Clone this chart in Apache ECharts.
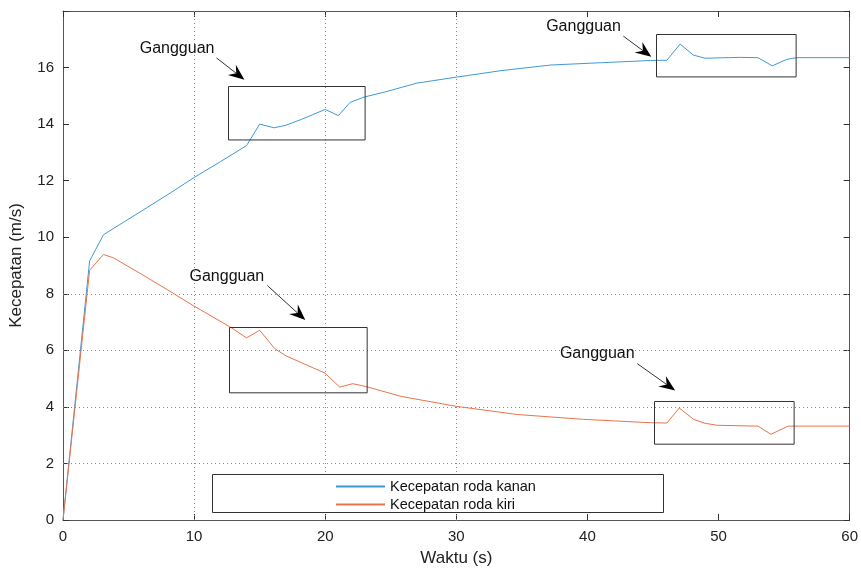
<!DOCTYPE html>
<html>
<head>
<meta charset="utf-8">
<script src="https://cdn.jsdelivr.net/npm/echarts@6/dist/echarts.min.js"></script>
<style>
  html, body { margin: 0; padding: 0; background: #fff; }
  #chart { width: 861px; height: 572px; }
</style>
</head>
<body>
<div id="chart"></div>
<script>
// waktu (s) dan kecepatan (m/s)
let tKanan = [0, 2.03, 3.09, 6, 8, 10.06, 12, 14.0, 15.0, 16.1, 17.0, 18.2, 20.0, 21.0, 21.9, 23.0, 24.5, 27.0, 30.0, 33.4, 37.2, 41.0, 44.8, 46.06, 47.07, 48.08, 48.97, 51.6, 53.0, 54.1, 55.2, 55.95, 60];
let vKanan = [0, 9.16, 10.09, 10.93, 11.51, 12.13, 12.67, 13.24, 14.0, 13.87, 13.96, 14.17, 14.52, 14.3, 14.77, 14.96, 15.13, 15.45, 15.66, 15.89, 16.09, 16.17, 16.25, 16.26, 16.83, 16.44, 16.33, 16.36, 16.35, 16.06, 16.29, 16.35, 16.35];

let tKiri = [0, 2.03, 3.09, 3.85, 6.0, 8.29, 9.94, 12.7, 14.0, 15.0, 16.15, 17.03, 20.0, 21.1, 22.1, 23.1, 25.8, 30.0, 34.65, 39.7, 44.8, 46.06, 47.0, 48.1, 48.97, 49.9, 53.0, 54.0, 55.3, 60];
let vKiri = [0, 8.83, 9.39, 9.27, 8.69, 8.05, 7.58, 6.84, 6.44, 6.71, 6.06, 5.8, 5.19, 4.7, 4.82, 4.72, 4.37, 4.02, 3.73, 3.56, 3.44, 3.43, 3.96, 3.56, 3.42, 3.35, 3.32, 3.03, 3.32, 3.32];

let names = ['Kecepatan roda kanan', 'Kecepatan roda kiri'];
let gridX = [10, 20, 30];
let gridY = [2, 4, 6, 8];

// kotak gangguan: [x0, x1, y0, y1]
let boxes = [
    [12.55, 22.97, 13.47, 15.36],
    [45.25, 55.9, 15.7, 17.2],
    [12.67, 23.17, 4.51, 6.82],
    [45.1, 55.75, 2.7, 4.21]
];
// panah: [xAwal, yAwal, xUjung, yUjung], teks: [x, y]
let arrows = [
    [11.71, 16.34, 13.84, 15.57],
    [42.74, 17.11, 44.87, 16.38],
    [15.59, 8.29, 18.48, 7.07],
    [43.8, 5.53, 46.69, 4.58]
];
let labels = [
    [8.7, 16.66],
    [39.7, 17.46],
    [12.5, 8.62],
    [40.75, 5.88]
];

function pairs(t, v) {
    let out = [];
    for (let i = 0; i < t.length; ++i) out.push([t[i], v[i]]);
    return out;
}

let font = 'Liberation Sans, Arial, sans-serif';
let chart = echarts.init(document.getElementById('chart'));

let gridLines = [];
gridX.forEach(function (x) { gridLines.push({ xAxis: x }); });
gridY.forEach(function (y) { gridLines.push({ yAxis: y }); });

let axisCommon = {
    axisLine: { show: true, onZero: false, lineStyle: { color: '#555', width: 1 } },
    axisTick: { show: true, inside: true, length: 6, lineStyle: { color: '#333' } },
    splitLine: { show: false }
};

let option = {
    animation: false,
    grid: { left: 61, right: 10, top: 11, bottom: 47 },
    xAxis: [
        Object.assign({
            type: 'value', min: 0, max: 60, interval: 10,
            name: 'Waktu (s)', nameLocation: 'middle', nameGap: 30,
            nameTextStyle: { fontFamily: font, fontSize: 17, color: '#222' },
            axisLabel: { fontFamily: font, fontSize: 15, color: '#222', margin: 9 }
        }, axisCommon),
        Object.assign({
            type: 'value', min: 0, max: 60, interval: 10, position: 'top',
            axisLabel: { show: false }
        }, axisCommon)
    ],
    yAxis: [
        Object.assign({
            type: 'value', min: 0, max: 18, interval: 2,
            name: 'Kecepatan (m/s)', nameLocation: 'middle', nameGap: 38,
            nameTextStyle: { fontFamily: font, fontSize: 17, color: '#222' },
            axisLabel: {
                fontFamily: font, fontSize: 15, color: '#222', margin: 9,
                formatter: function (v) { return v >= 18 ? '' : v; }
            }
        }, axisCommon),
        Object.assign({
            type: 'value', min: 0, max: 18, interval: 2, position: 'right',
            axisLabel: { show: false }
        }, axisCommon)
    ],
    legend: {
        orient: 'vertical', left: 335, top: 479, padding: 0,
        itemWidth: 49, itemHeight: 14, itemGap: 3, itemStyle: { opacity: 0 },
        textStyle: { fontFamily: font, fontSize: 14.5, color: '#111' },
        data: names, z: 20
    },
    series: [
        {
            name: names[0], type: 'line', data: pairs(tKanan, vKanan),
            symbol: 'none', lineStyle: { color: '#3f98d6', width: 1 },
            itemStyle: { color: '#3f98d6' }, z: 5,
            markLine: {
                silent: true, symbol: 'none', label: { show: false },
                lineStyle: { color: '#888', type: [1, 3], width: 1 },
                data: gridLines, z: 1
            }
        },
        {
            name: names[1], type: 'line', data: pairs(tKiri, vKiri),
            symbol: 'none', lineStyle: { color: '#e8744a', width: 1 },
            itemStyle: { color: '#e8744a' }, z: 5
        }
    ]
};
chart.setOption(option);

// anotasi: kotak, panah dan teks
function px(p) { return chart.convertToPixel({ gridIndex: 0 }, p); }

let graphics = [];
graphics.push({
    type: 'rect', shape: { x: 212.5, y: 474.5, width: 451, height: 38 },
    style: { fill: '#fff', stroke: '#333', lineWidth: 1 }, z: 10
});
boxes.forEach(function (b) {
    let a = px([b[0], b[3]]);
    let c = px([b[1], b[2]]);
    graphics.push({
        type: 'rect',
        shape: { x: Math.round(a[0]) + 0.5, y: Math.round(a[1]) + 0.5, width: c[0] - a[0], height: c[1] - a[1] },
        style: { fill: 'none', stroke: '#333', lineWidth: 1 }, z: 8
    });
});
arrows.forEach(function (ar) {
    let s = px([ar[0], ar[1]]);
    let e = px([ar[2], ar[3]]);
    let dx = e[0] - s[0], dy = e[1] - s[1];
    let len = Math.sqrt(dx * dx + dy * dy);
    let ux = dx / len, uy = dy / len;
    let nx = -uy, ny = ux;
    let L = 16, W = 13;
    let back = [e[0] - ux * L, e[1] - uy * L];
    let notch = [e[0] - ux * L * 0.65, e[1] - uy * L * 0.65];
    graphics.push({
        type: 'line', shape: { x1: s[0], y1: s[1], x2: notch[0], y2: notch[1] },
        style: { stroke: '#333', lineWidth: 1 }, z: 8
    });
    graphics.push({
        type: 'polygon',
        shape: { points: [e, [back[0] + nx * W / 2, back[1] + ny * W / 2], notch, [back[0] - nx * W / 2, back[1] - ny * W / 2]] },
        style: { fill: '#000' }, z: 8
    });
});
labels.forEach(function (l) {
    let p = px(l);
    graphics.push({
        type: 'text', x: p[0], y: p[1],
        style: { text: 'Gangguan', font: '16px ' + font, fill: '#111', align: 'center', verticalAlign: 'middle' },
        z: 8
    });
});
chart.setOption({ graphic: graphics });
</script>
</body>
</html>
